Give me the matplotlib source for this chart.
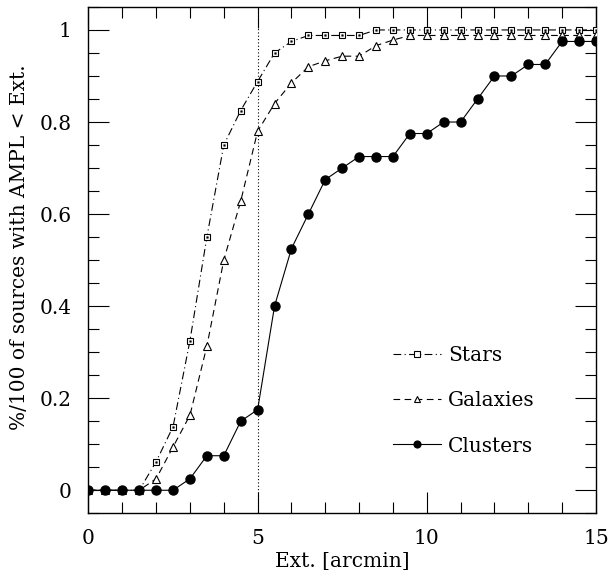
import numpy as np
import matplotlib
matplotlib.use("Agg")
import matplotlib.pyplot as plt
from matplotlib.ticker import MultipleLocator

plt.rcParams['font.family'] = ['DejaVu Serif']
plt.rcParams['mathtext.fontset'] = 'dejavuserif'

# Cumulative fraction of sources with AMPL below a given extent
ext = np.arange(0, 15.01, 0.5)

stars = [0, 0, 0, 0, 0.062, 0.138, 0.325, 0.55, 0.75, 0.825, 0.888, 0.95,
         0.975, 0.988, 0.988, 0.988, 0.988, 1.0, 1.0, 1.0, 1.0, 1.0, 1.0,
         1.0, 1.0, 1.0, 1.0, 1.0, 1.0, 1.0, 1.0]
galaxies = [0, 0, 0, 0, 0.025, 0.094, 0.163, 0.313, 0.5, 0.628, 0.78, 0.84,
            0.885, 0.92, 0.933, 0.943, 0.943, 0.966, 0.978, 0.988, 0.988,
            0.988, 0.988, 0.988, 0.988, 0.988, 0.988, 0.988, 0.988, 0.988,
            0.988]
clusters = [0, 0, 0, 0, 0, 0, 0.025, 0.075, 0.075, 0.15, 0.175, 0.4, 0.525,
            0.6, 0.675, 0.7, 0.725, 0.725, 0.725, 0.775, 0.775, 0.8, 0.8,
            0.85, 0.9, 0.9, 0.925, 0.925, 0.975, 0.975, 0.975]

ext_cut = 5.0
fs = 14.5

fig = plt.figure(figsize=(6.10, 5.78), dpi=100)
ax = fig.add_axes([0.145, 0.112, 0.832, 0.876])

ax.axvline(ext_cut, color='black', lw=0.8, ls=(0, (1, 2)), zorder=1)

lw = 0.8
sl, = ax.plot(ext, stars, color='black', lw=lw, ls=(0, (7, 3, 1, 3)),
              marker='s', ms=5, mfc='white', mec='black', mew=0.8,
              label='Stars', zorder=3)
# centre dot of the square symbols
ax.plot(ext, stars, ls='none', marker='s', ms=1.2, mfc='black', mec='black',
        mew=0.3, zorder=3.5)
gl, = ax.plot(ext, galaxies, color='black', lw=lw, ls=(0, (6, 4)),
              marker='^', ms=5.5, mfc='white', mec='black', mew=0.8,
              label='Galaxies', zorder=4)
cl, = ax.plot(ext, clusters, '-', color='black', lw=lw, marker='o', ms=6.5,
              mfc='black', mec='black', label='Clusters', zorder=5)

ax.set_xlim(0, 15)
ax.set_ylim(-0.05, 1.05)

ax.xaxis.set_minor_locator(MultipleLocator(1))
ax.yaxis.set_minor_locator(MultipleLocator(0.05))
ax.set_xticks([0, 5, 10, 15])
ax.set_xticklabels(['0', '5', '10', '15'])
ax.set_yticks([0, 0.2, 0.4, 0.6, 0.8, 1.0])
ax.set_yticklabels(['0', '0.2', '0.4', '0.6', '0.8', '1'])

ax.tick_params(which='both', direction='in', top=True, right=True,
               labelsize=fs, width=0.8)
ax.tick_params(axis='x', which='both', pad=11)
ax.tick_params(axis='y', which='both', pad=12)
ax.tick_params(which='major', length=15)
ax.tick_params(which='minor', length=8)
for sp in ax.spines.values():
    sp.set_linewidth(1.0)

ax.set_xlabel('Ext. [arcmin]', fontsize=fs, labelpad=3)
ax.set_ylabel('%/100 of sources with AMPL < Ext.', fontsize=fs)
ax.yaxis.set_label_coords(-0.118, 0.526)

ax.legend(handles=[sl, gl, cl], loc='center left',
          bbox_to_anchor=(0.6, 0.222), frameon=False, fontsize=fs,
          handlelength=2.4, handletextpad=0.35, labelspacing=1.3,
          borderpad=0, borderaxespad=0, numpoints=1, markerscale=0.75)

fig.savefig('out.png', dpi=100)
